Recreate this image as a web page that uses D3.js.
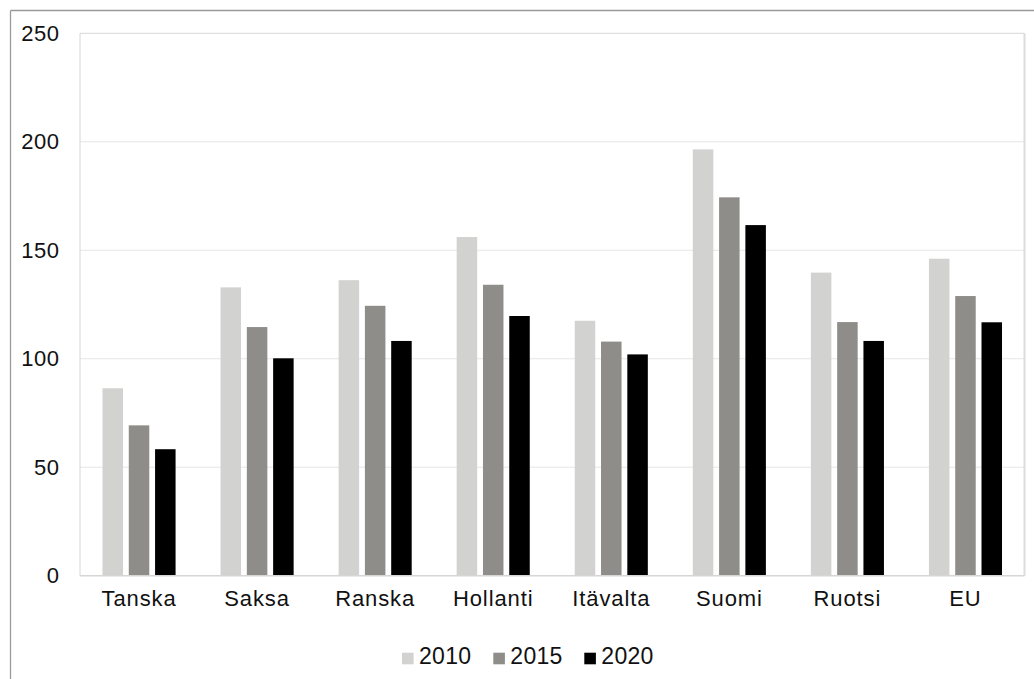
<!DOCTYPE html>
<html>
<head>
<meta charset="utf-8">
<script src="https://cdn.jsdelivr.net/npm/d3@7"></script>
<style>
  html, body { margin: 0; padding: 0; background: #fff; }
  svg { display: block; }
  text { font-family: "Liberation Sans", Arial, Helvetica, sans-serif; fill: #111; }
</style>
</head>
<body>
<svg id="chart" width="1034" height="679"></svg>
<script>
const categories = ["Tanska", "Saksa", "Ranska", "Hollanti", "Itävalta", "Suomi", "Ruotsi", "EU"];
const seriesNames = ["2010", "2015", "2020"];
const values2010 = [86.4, 132.9, 136.2, 156.1, 117.5, 196.5, 139.7, 146.1];
const values2015 = [69.3, 114.6, 124.4, 134.1, 107.9, 174.4, 116.9, 128.9];
const values2020 = [58.3, 100.2, 108.2, 119.7, 102.0, 161.6, 108.2, 116.8];
const yTicks = [0, 50, 100, 150, 200, 250];
const colors = ["#d2d2d0", "#8e8d89", "#000000"];

const seriesValues = [values2010, values2015, values2020];

const W = 1034, H = 679;
const plot = { left: 80, right: 1024.5, top: 33.3, bottom: 575.7 };

const svg = d3.select("#chart");

// outer frame (cropped)
svg.append("line").attr("x1", 10.5).attr("x2", W).attr("y1", 10.5).attr("y2", 10.5)
  .attr("stroke", "#9a9a9a").attr("stroke-width", 1.3);
svg.append("line").attr("x1", 10.5).attr("x2", 10.5).attr("y1", 10.5).attr("y2", H)
  .attr("stroke", "#9a9a9a").attr("stroke-width", 1.3);

const x0 = d3.scaleBand().domain(categories)
  .range([plot.left, plot.right]).paddingInner(0.332).paddingOuter(0.166);
const x1 = d3.scaleBand().domain(seriesNames)
  .range([0, x0.bandwidth()]).paddingInner(0.22).paddingOuter(0.11);
const y = d3.scaleLinear().domain([0, 250]).range([plot.bottom, plot.top]);

// gridlines
svg.append("g").selectAll("line").data(yTicks.filter(t => t > 0 && t < 250)).join("line")
  .attr("x1", plot.left).attr("x2", plot.right)
  .attr("y1", d => y(d)).attr("y2", d => y(d))
  .attr("stroke", "#e6e6e6").attr("stroke-width", 1);

// plot border
svg.append("line").attr("x1", plot.left).attr("x2", plot.right).attr("y1", y(250)).attr("y2", y(250))
  .attr("stroke", "#d6d6d6").attr("stroke-width", 1);
svg.append("line").attr("x1", plot.left).attr("x2", plot.left).attr("y1", y(250)).attr("y2", y(0))
  .attr("stroke", "#d6d6d6").attr("stroke-width", 1);
svg.append("line").attr("x1", plot.right).attr("x2", plot.right).attr("y1", y(250)).attr("y2", y(0))
  .attr("stroke", "#dcdcdc").attr("stroke-width", 2);

// bars
const groups = svg.append("g").selectAll("g").data(categories).join("g")
  .attr("transform", d => `translate(${x0(d)},0)`);
groups.selectAll("rect")
  .data((c, i) => seriesNames.map((s, k) => ({ s, k, v: seriesValues[k][i] })))
  .join("rect")
  .attr("x", d => x1(d.s))
  .attr("width", x1.bandwidth())
  .attr("y", d => y(d.v))
  .attr("height", d => y(0) - y(d.v))
  .attr("fill", d => colors[d.k]);

// bottom axis line
svg.append("line").attr("x1", plot.left).attr("x2", plot.right).attr("y1", y(0)).attr("y2", y(0))
  .attr("stroke", "#d6d6d6").attr("stroke-width", 1.5);

// y axis
const yAxis = svg.append("g").attr("transform", `translate(${plot.left},0)`)
  .call(d3.axisLeft(y).tickValues(yTicks).tickSize(0).tickPadding(20.5));
yAxis.select(".domain").remove();
yAxis.selectAll("text").style("font-size", "22px").style("letter-spacing", "0.5px")
  .style("font-family", '"Liberation Sans", Arial, Helvetica, sans-serif').attr("fill", "#111");

// x axis
const xAxis = svg.append("g").attr("transform", `translate(0,${plot.bottom})`)
  .call(d3.axisBottom(x0).tickSize(0).tickPadding(15));
xAxis.select(".domain").remove();
xAxis.selectAll("text").style("font-size", "22px").style("letter-spacing", "0.9px")
  .style("font-family", '"Liberation Sans", Arial, Helvetica, sans-serif').attr("fill", "#111");

// legend
const legendX = [402, 493.3, 584.3];
const legend = svg.append("g").selectAll("g").data(seriesNames).join("g")
  .attr("transform", (d, i) => `translate(${legendX[i]},664.3)`);
legend.append("rect").attr("x", 0).attr("y", -11.6).attr("width", 11.6).attr("height", 11.6)
  .attr("fill", (d, i) => colors[i]);
legend.append("text").attr("x", 17).attr("y", 0).text(d => d)
  .style("font-size", "23px").style("letter-spacing", "0.3px");
</script>
</body>
</html>
